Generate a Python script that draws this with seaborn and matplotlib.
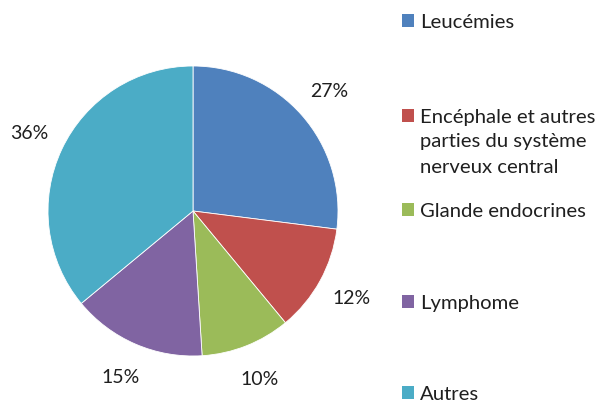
import matplotlib
matplotlib.use("Agg")
import matplotlib.pyplot as plt
import seaborn as sns
from matplotlib.patches import Patch
from matplotlib.text import Annotation

# Données du graphique
categories = ["Leucémies",
              "Encéphale et autres\nparties du système\nnerveux central",
              "Glande endocrines",
              "Lymphome",
              "Autres"]
parts = [27, 12, 10, 15, 36]
couleurs = ["#4F81BD", "#C0504D", "#9BBB59", "#8064A2", "#4BACC6"]

sns.set_theme(style="white")
plt.rcParams['font.family'] = ['Lato', 'DejaVu Sans']
texte_col = '#1f1f1f'
taille_leg = 14.6

fig = plt.figure(figsize=(5.96, 4.05), dpi=100)
# axe du camembert: centre (193, 211) px, rayon 145 px
ax = fig.add_axes([(193 - 145) / 596, (405 - 211 - 145) / 405, 290 / 596, 290 / 405])
wedges, textes, pcts = ax.pie(parts, colors=couleurs, startangle=90, counterclock=False,
                              radius=1, autopct='%1.0f%%', pctdistance=1.25,
                              wedgeprops=dict(edgecolor='white', linewidth=0.6),
                              textprops=dict(fontsize=14, color=texte_col))
ax.set_xlim(-1, 1)
ax.set_ylim(-1, 1)
ax.set_aspect('equal')

# légende: une entrée par bloc, placée comme dans l'original (y en px)
pos_legende = [22, 117, 211, 303, 394]
for w, lab, y in zip(wedges, categories, pos_legende):
    lignes = lab.split('\n')
    h = Patch(facecolor=w.get_facecolor(), edgecolor='none')
    leg = fig.legend([h], [lignes[0]], loc='center left',
                     bbox_to_anchor=(402 / 596, 1 - y / 405),
                     frameon=False, fontsize=taille_leg, handlelength=0.58, handleheight=0.58,
                     handletextpad=0.32, borderpad=0, borderaxespad=0)
    t0 = leg.get_texts()[0]
    t0.set_color(texte_col)
    if len(lignes) > 1:
        # lignes suivantes alignées sous la première, comme dans Excel
        suite = Annotation('\n'.join(lignes[1:]), xy=(0, 0), xycoords=t0,
                           xytext=(0, -5.5), textcoords='offset points',
                           ha='left', va='top', fontsize=taille_leg, color=texte_col,
                           linespacing=1.6, annotation_clip=False)
        suite.set_zorder(10)
        fig.add_artist(suite)

fig.savefig('out.png', dpi=100)
